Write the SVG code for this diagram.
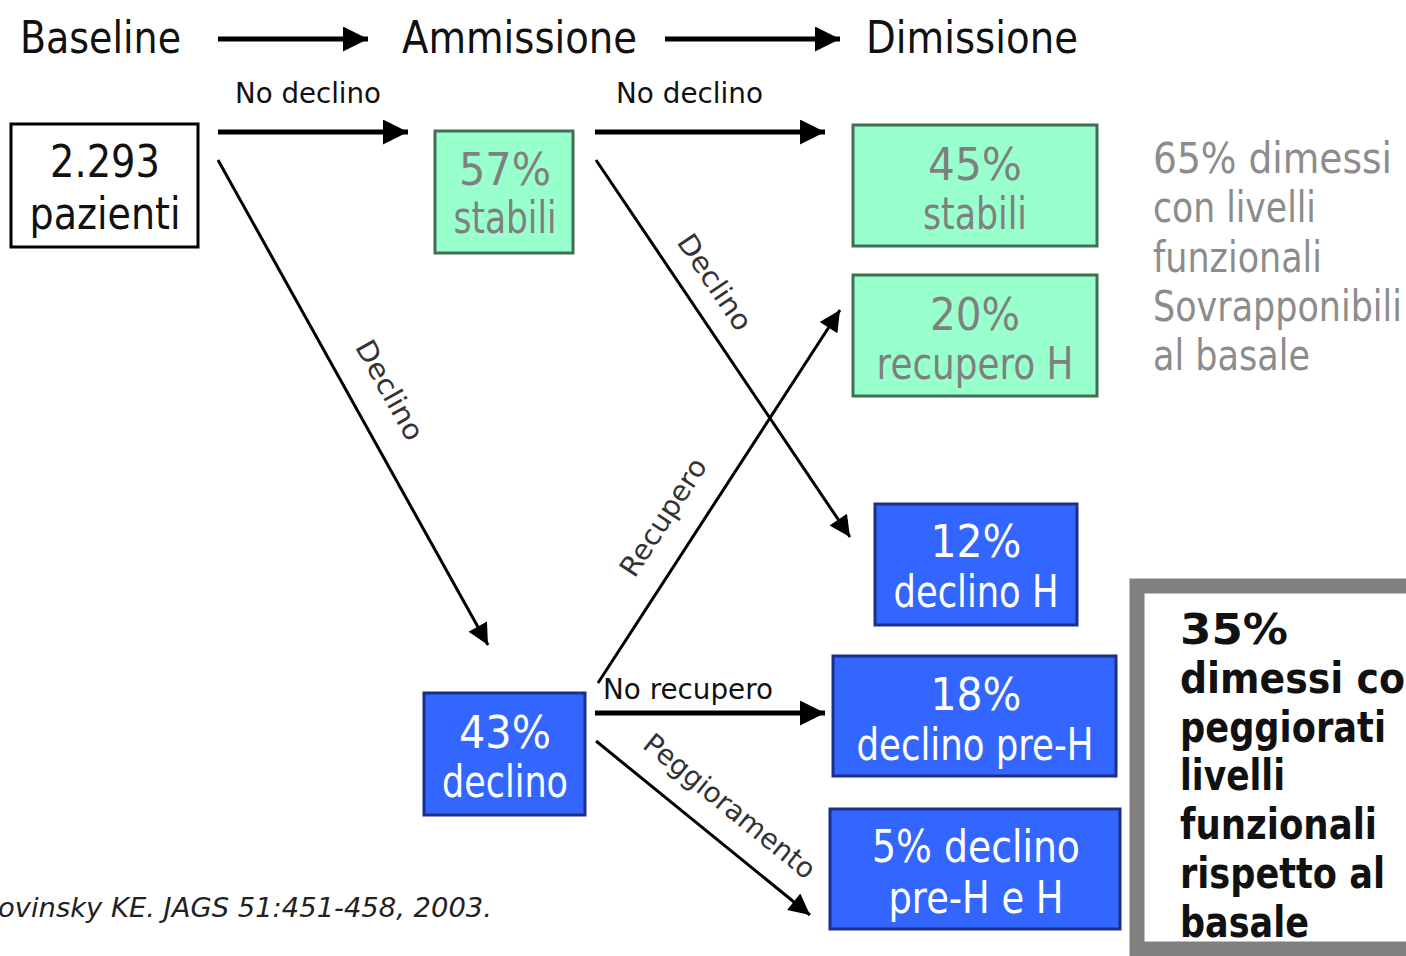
<svg xmlns="http://www.w3.org/2000/svg" width="1406" height="956" viewBox="0 0 1406 956">
<style>
text{font-family:"DejaVu Sans","Liberation Sans",sans-serif}
.t{font-size:44px;fill:#111}
.lb{font-size:29px;fill:#111}
.rl{font-size:28px;fill:#333}
.g{fill:#99FFCC;stroke:#3f6f55;stroke-width:3}
.b{fill:#3366FF;stroke:#1b2f8a;stroke-width:3}
.gt{font-size:44px;fill:#7f7f7f;text-anchor:middle}
.bt{font-size:44px;fill:#fff;text-anchor:middle}
.side{font-size:42px;fill:#8c8c8c}
.bold{font-size:42px;font-weight:bold;fill:#111}
.thick{stroke:#000;stroke-width:5;fill:none}
.thin{stroke:#000;stroke-width:3;fill:none}
</style>
<defs>
<marker id="ah" viewBox="0 0 10 10" refX="10" refY="5" markerWidth="5" markerHeight="5" orient="auto" markerUnits="strokeWidth"><path d="M0,0 L10,5 L0,10 z" fill="#000"/></marker>
<marker id="ah2" viewBox="0 0 10 10" refX="10" refY="5" markerWidth="8" markerHeight="7" orient="auto" markerUnits="strokeWidth"><path d="M0,0 L10,5 L0,10 z" fill="#000"/></marker>
</defs>
<rect width="1406" height="956" fill="#fff"/>
<g id="titles">
<text class="t" x="20" y="53" textLength="161" lengthAdjust="spacingAndGlyphs">Baseline</text>
<text class="t" x="402" y="53" textLength="235" lengthAdjust="spacingAndGlyphs">Ammissione</text>
<text class="t" x="866" y="53" textLength="212" lengthAdjust="spacingAndGlyphs">Dimissione</text>
</g>
<g id="connectors">
<line class="thick" x1="218" y1="39" x2="368" y2="39" marker-end="url(#ah)"/>
<line class="thick" x1="665" y1="39" x2="840" y2="39" marker-end="url(#ah)"/>
<line class="thick" x1="218" y1="132" x2="408" y2="132" marker-end="url(#ah)"/>
<line class="thick" x1="595" y1="132" x2="825" y2="132" marker-end="url(#ah)"/>
<line class="thin" x1="218" y1="160" x2="488" y2="645" marker-end="url(#ah2)"/>
<line class="thin" x1="596" y1="160" x2="850" y2="537" marker-end="url(#ah2)"/>
<line class="thin" x1="598" y1="683" x2="840" y2="310" marker-end="url(#ah2)"/>
<line class="thick" x1="595" y1="713" x2="825" y2="713" marker-end="url(#ah)"/>
<line class="thin" x1="596" y1="741" x2="810" y2="915" marker-end="url(#ah2)"/>
<text class="lb" x="235" y="103" textLength="146" lengthAdjust="spacingAndGlyphs">No declino</text>
<text class="lb" x="616" y="103" textLength="147" lengthAdjust="spacingAndGlyphs">No declino</text>
<text class="lb" x="603" y="699" textLength="170" lengthAdjust="spacingAndGlyphs">No recupero</text>
<text class="rl" text-anchor="middle" transform="translate(390,390) rotate(60.9) translate(0,10)" textLength="110" lengthAdjust="spacingAndGlyphs">Declino</text>
<text class="rl" text-anchor="middle" transform="translate(715,282) rotate(56) translate(0,10)" textLength="110" lengthAdjust="spacingAndGlyphs">Declino</text>
<text class="rl" text-anchor="middle" transform="translate(663,517) rotate(-57) translate(0,10)" textLength="135" lengthAdjust="spacingAndGlyphs">Recupero</text>
<text class="rl" text-anchor="middle" transform="translate(730,806) rotate(39) translate(0,10)" textLength="212" lengthAdjust="spacingAndGlyphs">Peggioramento</text>
</g>
<g id="n-pazienti">
<rect x="11" y="124" width="187" height="123" fill="#fff" stroke="#000" stroke-width="3"/>
<text class="t" x="105" y="177" text-anchor="middle" textLength="110" lengthAdjust="spacingAndGlyphs">2.293</text>
<text class="t" x="105" y="229" text-anchor="middle" textLength="151" lengthAdjust="spacingAndGlyphs">pazienti</text>
</g>
<g id="n-57">
<rect class="g" x="435" y="131" width="138" height="122"/>
<text class="gt" x="505" y="185" textLength="92" lengthAdjust="spacingAndGlyphs">57%</text>
<text class="gt" x="505" y="233" textLength="103" lengthAdjust="spacingAndGlyphs">stabili</text>
</g>
<g id="n-45">
<rect class="g" x="853" y="125" width="244" height="121"/>
<text class="gt" x="975" y="180" textLength="94" lengthAdjust="spacingAndGlyphs">45%</text>
<text class="gt" x="975" y="229" textLength="104" lengthAdjust="spacingAndGlyphs">stabili</text>
</g>
<g id="n-20">
<rect class="g" x="853" y="275" width="244" height="121"/>
<text class="gt" x="975" y="330" textLength="90" lengthAdjust="spacingAndGlyphs">20%</text>
<text class="gt" x="975" y="379" textLength="197" lengthAdjust="spacingAndGlyphs">recupero H</text>
</g>
<g id="n-43">
<rect class="b" x="424" y="693" width="161" height="122"/>
<text class="bt" x="505" y="748" textLength="92" lengthAdjust="spacingAndGlyphs">43%</text>
<text class="bt" x="505" y="797" textLength="126" lengthAdjust="spacingAndGlyphs">declino</text>
</g>
<g id="n-12">
<rect class="b" x="875" y="504" width="202" height="121"/>
<text class="bt" x="976" y="557" textLength="91" lengthAdjust="spacingAndGlyphs">12%</text>
<text class="bt" x="976" y="607" textLength="165" lengthAdjust="spacingAndGlyphs">declino H</text>
</g>
<g id="n-18">
<rect class="b" x="833" y="656" width="283" height="120"/>
<text class="bt" x="976" y="710" textLength="91" lengthAdjust="spacingAndGlyphs">18%</text>
<text class="bt" x="975" y="760" textLength="237" lengthAdjust="spacingAndGlyphs">declino pre-H</text>
</g>
<g id="n-5">
<rect class="b" x="830" y="809" width="290" height="120"/>
<text class="bt" x="976" y="862" textLength="208" lengthAdjust="spacingAndGlyphs">5% declino</text>
<text class="bt" x="976" y="913" textLength="175" lengthAdjust="spacingAndGlyphs">pre-H e H</text>
</g>
<g id="n-65">
<text class="side" x="1153" y="173" textLength="239" lengthAdjust="spacingAndGlyphs">65% dimessi</text>
<text class="side" x="1153" y="222" textLength="163" lengthAdjust="spacingAndGlyphs">con livelli</text>
<text class="side" x="1153" y="272" textLength="169" lengthAdjust="spacingAndGlyphs">funzionali</text>
<text class="side" x="1153" y="321" textLength="249" lengthAdjust="spacingAndGlyphs">Sovrapponibili</text>
<text class="side" x="1153" y="370" textLength="157" lengthAdjust="spacingAndGlyphs">al basale</text>
</g>
<g id="n-35">
<rect x="1137" y="586" width="300" height="363" fill="#fff" stroke="#808080" stroke-width="15"/>
<text class="bold" x="1180" y="644" textLength="108" lengthAdjust="spacingAndGlyphs">35%</text>
<text class="bold" x="1180" y="693" textLength="252" lengthAdjust="spacingAndGlyphs">dimessi con</text>
<text class="bold" x="1180" y="742" textLength="206" lengthAdjust="spacingAndGlyphs">peggiorati</text>
<text class="bold" x="1180" y="790" textLength="105" lengthAdjust="spacingAndGlyphs">livelli</text>
<text class="bold" x="1180" y="839" textLength="197" lengthAdjust="spacingAndGlyphs">funzionali</text>
<text class="bold" x="1180" y="888" textLength="205" lengthAdjust="spacingAndGlyphs">rispetto al</text>
<text class="bold" x="1180" y="937" textLength="129" lengthAdjust="spacingAndGlyphs">basale</text>
</g>
<g id="citation">
<text x="492" y="917" text-anchor="end" font-size="27" font-style="italic" fill="#222" textLength="494" lengthAdjust="spacingAndGlyphs">ovinsky KE. JAGS 51:451-458, 2003.</text>
</g>
</svg>
